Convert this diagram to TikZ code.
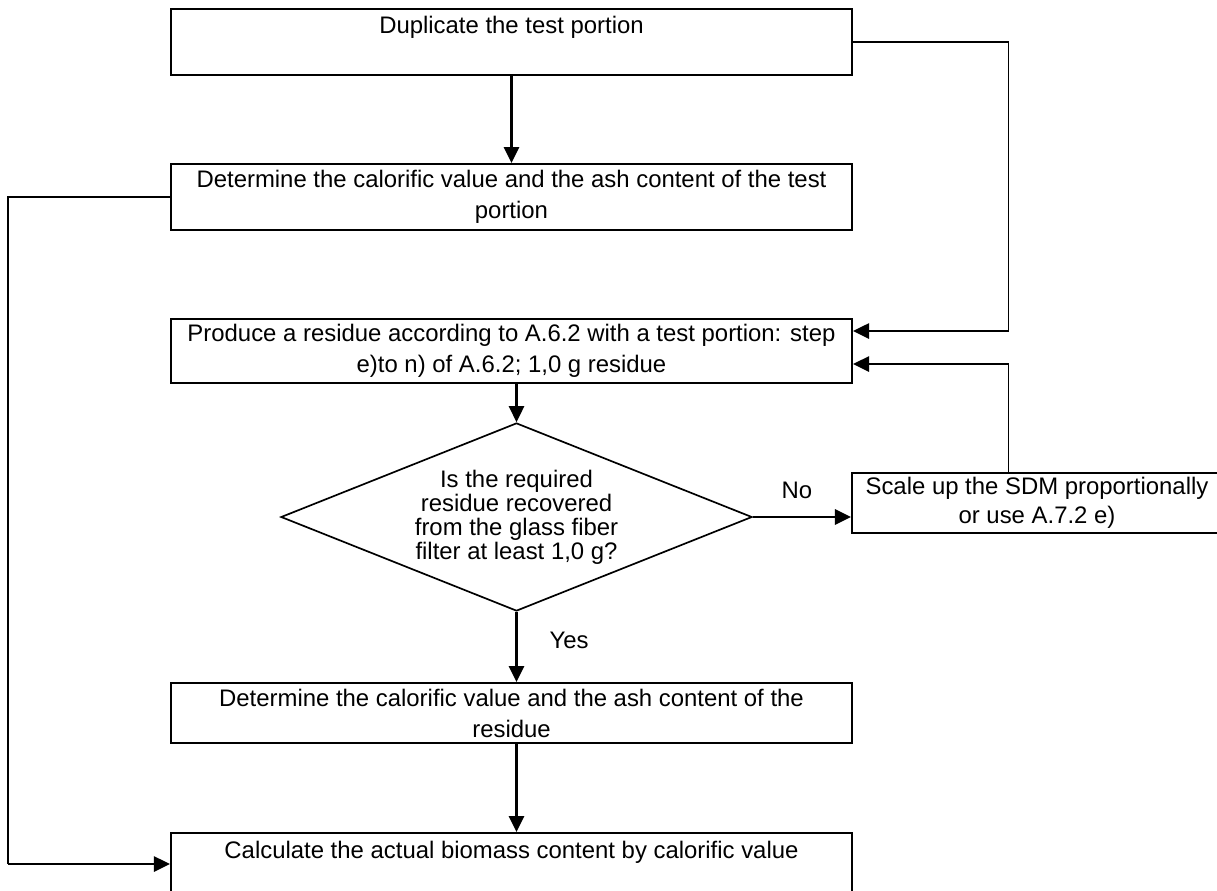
\documentclass[tikz,border=0pt]{standalone}
\usepackage{fontspec}
\setmainfont{Liberation Sans}
\usetikzlibrary{shapes.geometric,arrows.meta}

\tikzset{
  box/.style={draw, line width=1.4pt, minimum width=17.025cm, inner xsep=0pt, inner ysep=0pt, align=center, font=\fontsize{17}{22}\selectfont},
  decision/.style={draw, diamond, shape aspect=2.5, line width=1.2pt, minimum width=11.775cm, minimum height=4.7cm, inner sep=0pt, align=center, font=\fontsize{17}{17}\selectfont},
  track/.style={line width=1.2pt},
  arr/.style={line width=1.6pt, -{Triangle[length=0.4cm,width=0.38cm]}},
  lbl/.style={font=\fontsize{17}{20}\selectfont}
}

\begin{document}
\begin{tikzpicture}[x=0.025cm, y=-0.025cm]
    \useasboundingbox (0,0) rectangle (1217,890);
    \node[box, text height=0.6125cm, text depth=1.0375cm] (dup) at (511.5,42)
      {Duplicate the test portion};
    \node[box, minimum height=1.65cm] (calc1) at (511.5,197)
      {Determine the calorific value and the ash content of the test\\portion};
    \node[box, minimum height=1.6cm] (prod) at (511.5,351)
      {Produce a residue according to A.6.2 with a test portion: step\\e)to n) of A.6.2; 1,0 g residue};
    \node[decision] (chk) at (516.5,517)
      {Is the required\\residue recovered\\from the glass fiber\\filter at least 1,0 g?};
    \node[box, minimum width=9.25cm, minimum height=1.5cm, font=\fontsize{17}{20.6}\selectfont] (scale) at (1037,503)
      {Scale up the SDM proportionally\\or use A.7.2 e)};
    \node[box, minimum height=1.5cm] (calc2) at (511.5,713)
      {Determine the calorific value and the ash content of the\\residue};
    \node[box, text height=0.6375cm, text depth=0.9125cm] (bio) at (511.5,864)
      {Calculate the actual biomass content by calorific value};
    \node[lbl] (no) at (797,490) {No};
    \node[lbl] (yes) at (569,640) {Yes};

    \coordinate (rx) at (1008.5,0);
    \coordinate (lx) at (8,0);
    \coordinate (in1) at ([yshift=0.5cm]prod.east);
    \coordinate (in2) at ([yshift=-0.325cm]prod.east);

    \draw[arr] (dup) -- (calc1);
    \draw[track] (dup.east) -| (rx |- in1);
    \draw[arr] (rx |- in1) -- (in1);
    \draw[track] (rx |- scale.north) -- (rx |- in2);
    \draw[arr] (rx |- in2) -- (in2);
    \draw[arr] (prod.south -| chk.north) -- (chk.north);
    \draw[arr] (chk.east) -- (chk.east -| scale.west);
    \draw[arr] (chk.south) -- (chk.south |- calc2.north);
    \draw[arr] (chk.south |- calc2.south) -- (chk.south |- bio.north);
    \draw[track] (calc1.west) -| (lx |- bio.west);
    \draw[arr] (lx |- bio.west) -- (bio.west);
  \end{tikzpicture}
\end{document}
